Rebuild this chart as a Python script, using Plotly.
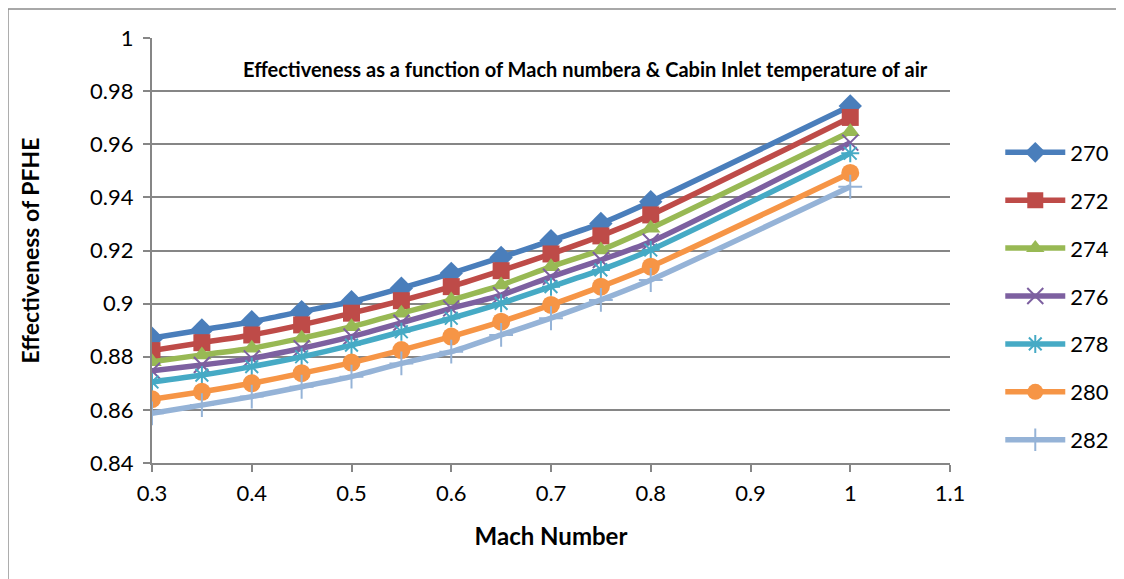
import plotly.graph_objects as go

mach = [0.3, 0.35, 0.4, 0.45, 0.5, 0.55, 0.6, 0.65, 0.7, 0.75, 0.8, 1.0]

eff_270 = [0.8870, 0.8901, 0.8932, 0.8970, 0.9007, 0.9058, 0.9114, 0.9174, 0.9237, 0.9302, 0.9384, 0.9744]
eff_272 = [0.8823, 0.8853, 0.8882, 0.8920, 0.8964, 0.9011, 0.9064, 0.9124, 0.9187, 0.9255, 0.9334, 0.9701]
eff_274 = [0.8781, 0.8807, 0.8832, 0.8870, 0.8913, 0.8964, 0.9014, 0.9070, 0.9139, 0.9202, 0.9284, 0.9647]
eff_276 = [0.8747, 0.8769, 0.8794, 0.8832, 0.8876, 0.8928, 0.8982, 0.9032, 0.9101, 0.9164, 0.9233, 0.9606]
eff_278 = [0.8705, 0.8731, 0.8763, 0.8800, 0.8844, 0.8894, 0.8945, 0.9001, 0.9064, 0.9127, 0.9202, 0.9566]
eff_280 = [0.8640, 0.8668, 0.8700, 0.8738, 0.8778, 0.8825, 0.8876, 0.8932, 0.8995, 0.9064, 0.9139, 0.9492]
eff_282 = [0.8587, 0.8618, 0.8650, 0.8687, 0.8725, 0.8775, 0.8819, 0.8882, 0.8945, 0.9014, 0.9089, 0.9440]

series_names = ["270", "272", "274", "276", "278", "280", "282"]
series_vals = [eff_270, eff_272, eff_274, eff_276, eff_278, eff_280, eff_282]
colors = ["#4A7EBB", "#BE4B48", "#98B954", "#7D60A0", "#46AAC5", "#F69546", "#95B3D7"]
symbols = ["diamond", "square", "triangle-up", "x-thin-open", "asterisk-open", "circle", "cross-thin-open"]
sizes = [18, 17, 17, 16, 15, 18, 17]

FONT = "Lato"

fig = go.Figure()
for i, (name, vals) in enumerate(zip(series_names, series_vals)):
    sym = symbols[i]
    open_sym = sym.endswith("-open")
    fig.add_trace(go.Scatter(
        x=mach, y=vals, name=name, mode="lines+markers",
        legendgroup=name,
        line=dict(color=colors[i], width=5.5, shape="spline", smoothing=0.6),
        marker=dict(symbol=sym, size=sizes[i], color=colors[i],
                    line=dict(color=colors[i], width=2 if open_sym else 0)),
    ))

fig.update_layout(
    width=1124, height=579,
    margin=dict(l=144, r=182, t=30, b=124),
    paper_bgcolor="white", plot_bgcolor="white",
    font=dict(family=FONT, color="black"),
    showlegend=True,
    legend=dict(x=1.063, y=0.78, xanchor="left", yanchor="top",
                font=dict(family=FONT, size=22, color="black"),
                traceorder="grouped", tracegroupgap=16.3,
                itemwidth=60, bgcolor="rgba(0,0,0,0)"),
    xaxis=dict(range=[0.3, 1.1], dtick=0.1, tick0=0.3, showgrid=False,
               showline=True, linecolor="#868686", linewidth=2,
               ticks="outside", ticklen=7, tickcolor="#868686", tickwidth=2,
               ticklabelstandoff=3,
               tickfont=dict(family=FONT, size=22), zeroline=False,
               title=dict(text="<b>Mach Number</b>", font=dict(family=FONT, size=24), standoff=23)),
    yaxis=dict(range=[0.84, 1.0], dtick=0.02, tick0=0.84, showgrid=True,
               gridcolor="#868686", gridwidth=2,
               showline=True, linecolor="#868686", linewidth=2,
               ticks="outside", ticklen=7, tickcolor="#868686", tickwidth=2,
               ticklabelstandoff=5,
               tickfont=dict(family=FONT, size=22), zeroline=False,
               title=dict(text="<b>Effectiveness of PFHE</b>", font=dict(family=FONT, size=23), standoff=44)),
    annotations=[dict(
        text="<b>Effectiveness as a function of Mach numbera &amp; Cabin Inlet temperature of air</b>",
        xref="paper", yref="paper", x=0.543, y=0.928, xanchor="center", yanchor="middle",
        showarrow=False, font=dict(family=FONT, size=20, color="black"))],
    shapes=[dict(type="rect", xref="paper", yref="paper",
                 x0=-0.1805, x1=1.209, y0=-0.4, y1=1.068,
                 line=dict(color="#8C8C8C", width=1.5), fillcolor="rgba(0,0,0,0)", layer="below")],
)

fig.write_html("out.html")
